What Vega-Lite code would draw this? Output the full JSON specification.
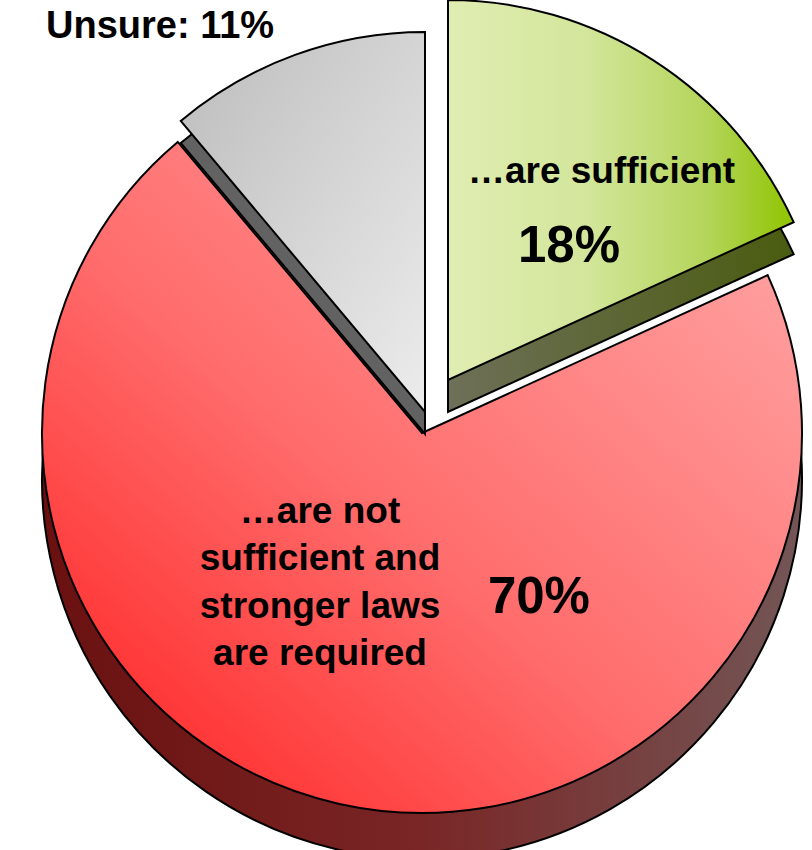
{
  "$schema": "https://vega.github.io/schema/vega-lite/v6.json",
  "width": 780,
  "height": 834,
  "autosize": {"type": "none"},
  "padding": {"left": 32, "top": 16, "right": 0, "bottom": 0},
  "background": "white",
  "config": {"view": {"stroke": null}, "text": {"font": "Liberation Sans"}},
  "data": {
    "values": [
      {"order": 1, "answer": "sufficient", "label": "…are sufficient", "share": 0.18},
      {"order": 2, "answer": "not sufficient", "label": "…are not\nsufficient and\nstronger laws\nare required", "share": 0.70},
      {"order": 3, "answer": "unsure", "label": "Unsure: 11%", "share": 0.11}
    ]
  },
  "transform": [
    {"stack": "share", "groupby": [], "sort": [{"field": "order", "order": "ascending"}], "as": ["s0", "s1"]}
  ],
  "encoding": {
    "theta": {"field": "s0", "type": "quantitative", "stack": null, "scale": {"domain": [0, 0.99]}}
  },
  "layer": [
    {
      "transform": [{"filter": "datum.order == 2"}],
      "mark": {"type": "arc", "radius": 380, "yOffset": 46, "stroke": "#000", "strokeWidth": 2,
        "fill": {"gradient": "linear", "x1": 0, "y1": 0, "x2": 1, "y2": 0,
          "stops": [{"offset": 0, "color": "#6a1010"}, {"offset": 0.5, "color": "#7a2626"}, {"offset": 1, "color": "#735656"}]}},
      "encoding": {"theta2": {"field": "s1"}}
    },
    {
      "transform": [{"filter": "datum.order == 2"}],
      "mark": {"type": "arc", "radius": 380, "stroke": "#000", "strokeWidth": 2,
        "fill": {"gradient": "linear", "x1": 0, "y1": 1, "x2": 1, "y2": 0,
          "stops": [{"offset": 0, "color": "#ff1c1c"}, {"offset": 0.45, "color": "#ff6c6c"}, {"offset": 1, "color": "#ffabab"}]}},
      "encoding": {"theta2": {"field": "s1"}}
    },
    {
      "transform": [{"filter": "datum.order == 3"}],
      "mark": {"type": "arc", "radius": 380, "xOffset": 3, "yOffset": 1, "stroke": "#000", "strokeWidth": 2, "fill": "#626262"},
      "encoding": {"theta2": {"field": "s1"}}
    },
    {
      "transform": [{"filter": "datum.order == 3"}],
      "mark": {"type": "arc", "radius": 380, "xOffset": 3, "yOffset": -21, "stroke": "#000", "strokeWidth": 2,
        "fill": {"gradient": "linear", "x1": 0, "y1": 0, "x2": 1, "y2": 1,
          "stops": [{"offset": 0, "color": "#bcbcbc"}, {"offset": 1, "color": "#ececec"}]}},
      "encoding": {"theta2": {"field": "s1"}}
    },
    {
      "transform": [{"filter": "datum.order == 1"}],
      "mark": {"type": "arc", "radius": 380, "xOffset": 26, "yOffset": -21, "stroke": "#000", "strokeWidth": 2,
        "fill": {"gradient": "linear", "x1": 0, "y1": 0, "x2": 1, "y2": 0,
          "stops": [{"offset": 0, "color": "#6e7058"}, {"offset": 1, "color": "#4a5c10"}]}},
      "encoding": {"theta2": {"field": "s1"}}
    },
    {
      "transform": [{"filter": "datum.order == 1"}],
      "mark": {"type": "arc", "radius": 380, "xOffset": 26, "yOffset": -53, "stroke": "#000", "strokeWidth": 2,
        "fill": {"gradient": "linear", "x1": 0, "y1": 0, "x2": 1, "y2": 0,
          "stops": [{"offset": 0, "color": "#e0edb2"}, {"offset": 0.4, "color": "#d3e69b"}, {"offset": 0.75, "color": "#b4d55a"}, {"offset": 1, "color": "#8fc400"}]}},
      "encoding": {"theta2": {"field": "s1"}}
    },
    {
      "transform": [{"filter": "datum.order == 1"}],
      "mark": {"type": "text", "radius": 307.8, "thetaOffset": 0.6228, "fontSize": 37, "fontWeight": "bold", "align": "center", "baseline": "alphabetic", "color": "#000"},
      "encoding": {"text": {"field": "label"}}
    },
    {
      "transform": [{"filter": "datum.order == 1"}],
      "mark": {"type": "text", "radius": 225.5, "thetaOffset": 0.7102, "fontSize": 51, "fontWeight": "bold", "align": "center", "baseline": "alphabetic", "color": "#000"},
      "encoding": {"text": {"field": "share", "format": ".0%"}}
    },
    {
      "transform": [{"filter": "datum.order == 2"}],
      "mark": {"type": "text", "radius": 136, "thetaOffset": 2.847, "fontSize": 37, "fontWeight": "bold", "align": "center", "baseline": "alphabetic", "lineBreak": "\n", "lineHeight": 47.5, "color": "#000"},
      "encoding": {"text": {"field": "label"}}
    },
    {
      "transform": [{"filter": "datum.order == 2"}],
      "mark": {"type": "text", "radius": 214.7, "thetaOffset": 1.4233, "fontSize": 51, "fontWeight": "bold", "align": "center", "baseline": "alphabetic", "color": "#000"},
      "encoding": {"text": {"field": "share", "format": ".0%"}}
    },
    {
      "transform": [{"filter": "datum.order == 3"}],
      "mark": {"type": "text", "radius": 474, "thetaOffset": 0.1126, "fontSize": 38, "fontWeight": "bold", "align": "center", "baseline": "alphabetic", "color": "#000"},
      "encoding": {"text": {"field": "label"}}
    }
  ]
}
